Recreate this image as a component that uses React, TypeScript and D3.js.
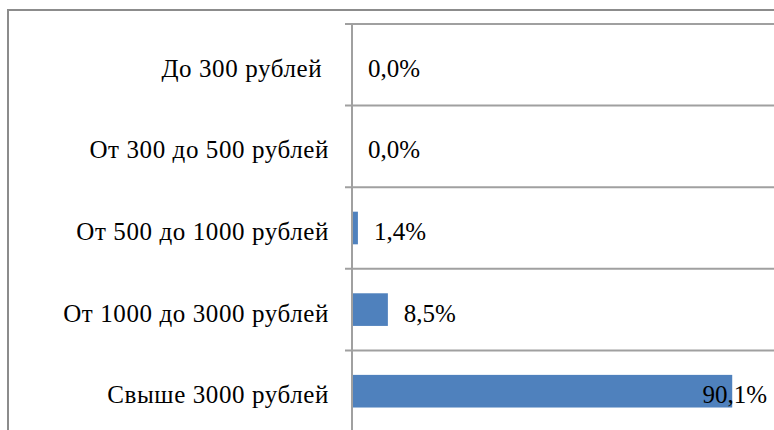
import * as d3 from 'd3';

const categories = [
    'До 300 рублей ',
    'От 300 до 500 рублей',
    'От 500 до 1000 рублей',
    'От 1000 до 3000 рублей',
    'Свыше 3000 рублей',
];
const values = [0.0, 0.0, 1.4, 8.5, 90.1];

const fmt = (v: number) => v.toFixed(1).replace('.', ',') + '%';

const W = 774, H = 430;
const margin = { top: 24, right: 0, bottom: -2, left: 352 };
const width = W - margin.left - margin.right;
const height = H - margin.top - margin.bottom;
const font = "'Liberation Serif', 'Times New Roman', serif";

const BarChart = () => {
    const y = d3.scaleBand()
        .domain(categories)
        .range([0, height])
        .paddingInner(0.6)
        .paddingOuter(0.3);

    const x = d3.scaleLinear()
        .domain([0, 100])
        .range([0, width]);

    // gridlines sit on band boundaries
    const bounds = d3.range(categories.length + 1).map(i => i * y.step());

    return (
        <svg width={W} height={H} style={{ position: 'absolute', left: 0, top: 0 }}>
            <rect x={8} y={10} width={W + 20} height={H + 20} fill="none" stroke="#8c8c8c" strokeWidth={2} />
            <g transform={`translate(${margin.left},${margin.top})`}>
                {bounds.map((b, i) => (
                    <line key={i} x1={-7} x2={width} y1={b} y2={b} stroke="#a0a0a0" strokeWidth={2} />
                ))}
                {values.map((v, i) => (
                    <rect key={i} x={0} y={y(categories[i]) || 0} width={x(v)} height={y.bandwidth()} fill="#4f81bd" />
                ))}
                <line x1={0} x2={0} y1={0} y2={height + 5} stroke="#a0a0a0" strokeWidth={2} />
                {categories.map(c => (
                    <text
                        key={c}
                        x={-23}
                        y={(y(c) || 0) + y.bandwidth() / 2}
                        dy="0.48em"
                        textAnchor="end"
                        style={{ fontFamily: font, fontSize: '25px', letterSpacing: '0.6px', whiteSpace: 'pre' }}
                        fill="#000"
                    >
                        {c}
                    </text>
                ))}
                {values.map((v, i) => {
                    const inside = x(v) + 16 + 60 > width;
                    return (
                        <text
                            key={i}
                            x={inside ? width - 7 : x(v) + 16}
                            y={(y(categories[i]) || 0) + y.bandwidth() / 2}
                            dy="0.48em"
                            textAnchor={inside ? 'end' : 'start'}
                            style={{ fontFamily: font, fontSize: '25px' }}
                            fill="#000"
                        >
                            {fmt(v)}
                        </text>
                    );
                })}
            </g>
        </svg>
    );
};

export default function App() {
    return <BarChart />;
}
